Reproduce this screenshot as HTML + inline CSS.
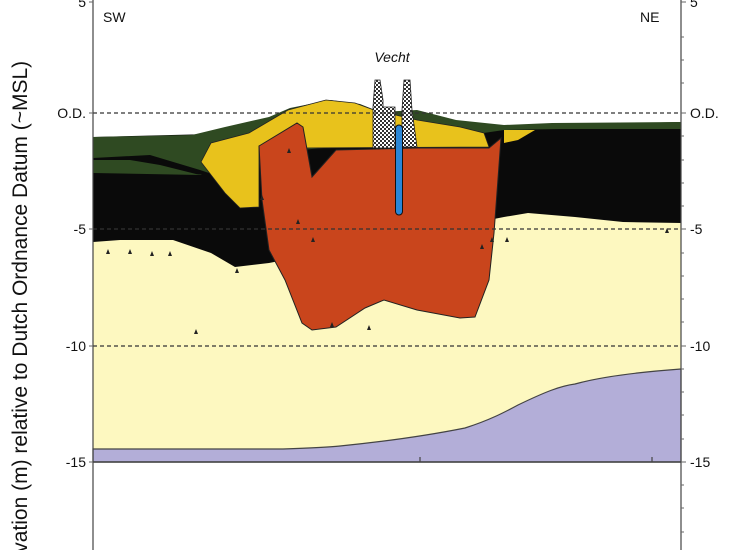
<!DOCTYPE html>
<html><head><style>html,body{margin:0;background:#fff;width:750px;height:550px;overflow:hidden}svg{display:block;overflow:hidden}</style></head><body>
<svg width="750" height="550" viewBox="0 0 750 550" xmlns="http://www.w3.org/2000/svg" font-family="Liberation Sans, sans-serif">
<defs>
<pattern id="ck" width="4" height="4" patternUnits="userSpaceOnUse"><rect width="4" height="4" fill="#fff"/><rect width="2" height="2" fill="#333"/><rect x="2" y="2" width="2" height="2" fill="#333"/></pattern>
<clipPath id="cp"><rect width="750" height="550"/></clipPath>
</defs>
<g clip-path="url(#cp)">
<rect x="93" y="200" width="588" height="262" fill="#fdf8c0"/>
<path d="M93,449 L283,449 C310,448 330,447 340,446 C380,442 420,437 465,428 C490,420 505,412 518,405 C545,392 560,386 575,384 C600,377 640,372 681,369 L681,462 L93,462 Z" fill="#b3aed8" stroke="#444" stroke-width="1.2"/>
<path d="M93,137 L681,122 L681,223 L623,222 L575,217 L528,213 L504,217 L269,263 L235,267 L211,253 L173,240 L120,240 L93,242 Z" fill="#0a0a0a"/>
<path d="M93,137 L192,135 L225,127 L269,117 L290,108 L330,100 L360,104 L380,112 L417,110 L456,120 L504,125 L552,123 L681,122 L681,129 L560,129 L504,130 L470,135 L420,140 L300,150 L240,165 L200,175 L160,165 L130,158 L93,158 Z" fill="#2f4a22"/>
<path d="M93,158 L150,155 L200,170 L215,175 L93,170 Z" fill="#0a0a0a"/>
<path d="M93,160 L130,160 L160,165 L200,175 L93,173 Z" fill="#2f4a22"/>
<path d="M201,162 L211,143 L249,133 L288,110 L326,100 L355,103 L374,110 L417,120 L460,127 L484,133 L489,147 L300,148 L259,146 L259,207 L240,208 L225,193 Z" fill="#e8c21c" stroke="#222" stroke-width="0.8"/>
<path d="M504,130 L535,130 L518,140 L504,143 Z" fill="#e8c21c"/>
<path d="M259,146 L297,123 L303,127 L312,177 L336,150 L417,148 L489,148 L501,138 L494,233 L489,280 L475,317 L460,318 L417,310 L384,300 L365,308 L336,327 L312,330 L302,323 L285,280 L269,250 L262,200 Z" fill="#c9451c" stroke="#222" stroke-width="1"/>
<path d="M375,80 L380,80 L383,100 L383,107 L395,107 L395,148 L373,148 L373,107 Z" fill="url(#ck)" stroke="#222" stroke-width="0.8"/>
<path d="M404,80 L410,80 L412,110 L417,147 L402,147 L402,110 Z" fill="url(#ck)" stroke="#222" stroke-width="0.8"/>
<rect x="395.5" y="125" width="7" height="90" rx="3.5" fill="#2a86d6" stroke="#111" stroke-width="1"/>
<g fill="#222">
<path d="M106,254 l2,-5 l2,5z M128,254 l2,-5 l2,5z M150,256 l2,-5 l2,5z M168,256 l2,-5 l2,5z M235,273 l2,-5 l2,5z M194,334 l2,-5 l2,5z M330,327 l2,-5 l2,5z M367,330 l2,-5 l2,5z M287,153 l2,-5 l2,5z M260,200 l2,-5 l2,5z M296,224 l2,-5 l2,5z M311,242 l2,-5 l2,5z M480,249 l2,-5 l2,5z M490,242 l2,-5 l2,5z M505,242 l2,-5 l2,5z M665,233 l2,-5 l2,5z"/>
</g>
<g stroke="#333" stroke-width="1.2" stroke-dasharray="4,3">
<line x1="93" y1="113" x2="681" y2="113"/><line x1="93" y1="229" x2="681" y2="229"/><line x1="93" y1="346" x2="681" y2="346"/>
</g>
<line x1="93" y1="462" x2="681" y2="462" stroke="#444" stroke-width="1.5"/>
<g stroke="#444" stroke-width="1.2">
<line x1="93" y1="0" x2="93" y2="550"/><line x1="681" y1="0" x2="681" y2="550"/>
<line x1="420" y1="462" x2="420" y2="457"/><line x1="652" y1="462" x2="652" y2="457"/>
</g>
<g stroke="#666" stroke-width="1">
<line x1="89" y1="2" x2="93" y2="2"/><line x1="89" y1="113" x2="93" y2="113"/><line x1="89" y1="229" x2="93" y2="229"/><line x1="89" y1="346" x2="93" y2="346"/><line x1="89" y1="462" x2="93" y2="462"/>
<line x1="681" y1="2" x2="686" y2="2"/><line x1="681" y1="113" x2="686" y2="113"/><line x1="681" y1="229" x2="686" y2="229"/><line x1="681" y1="346" x2="686" y2="346"/><line x1="681" y1="462" x2="686" y2="462"/>
<line x1="681" y1="37" x2="684" y2="37"/><line x1="681" y1="60" x2="684" y2="60"/><line x1="681" y1="83" x2="684" y2="83"/><line x1="681" y1="136" x2="684" y2="136"/><line x1="681" y1="160" x2="684" y2="160"/><line x1="681" y1="183" x2="684" y2="183"/><line x1="681" y1="206" x2="684" y2="206"/><line x1="681" y1="253" x2="684" y2="253"/><line x1="681" y1="276" x2="684" y2="276"/><line x1="681" y1="299" x2="684" y2="299"/><line x1="681" y1="322" x2="684" y2="322"/><line x1="681" y1="369" x2="684" y2="369"/><line x1="681" y1="392" x2="684" y2="392"/><line x1="681" y1="415" x2="684" y2="415"/><line x1="681" y1="439" x2="684" y2="439"/><line x1="681" y1="485" x2="684" y2="485"/><line x1="681" y1="508" x2="684" y2="508"/><line x1="681" y1="532" x2="684" y2="532"/>
</g>
<g font-size="14" fill="#111">
<text x="86" y="7" text-anchor="end">5</text>
<text x="86" y="118" text-anchor="end">O.D.</text>
<text x="86" y="234" text-anchor="end">-5</text>
<text x="86" y="351" text-anchor="end">-10</text>
<text x="86" y="467" text-anchor="end">-15</text>
<text x="690" y="7">5</text>
<text x="690" y="118">O.D.</text>
<text x="690" y="234">-5</text>
<text x="690" y="351">-10</text>
<text x="690" y="467">-15</text>
<text x="103" y="22">SW</text>
<text x="640" y="22">NE</text>
<text x="392" y="62" text-anchor="middle" font-style="italic">Vecht</text>
</g>
<text transform="translate(27,322) rotate(-90)" text-anchor="middle" font-size="21" fill="#111">Elevation (m) relative to Dutch Ordnance Datum (~MSL)</text>
</g>
</svg>
</body></html>
